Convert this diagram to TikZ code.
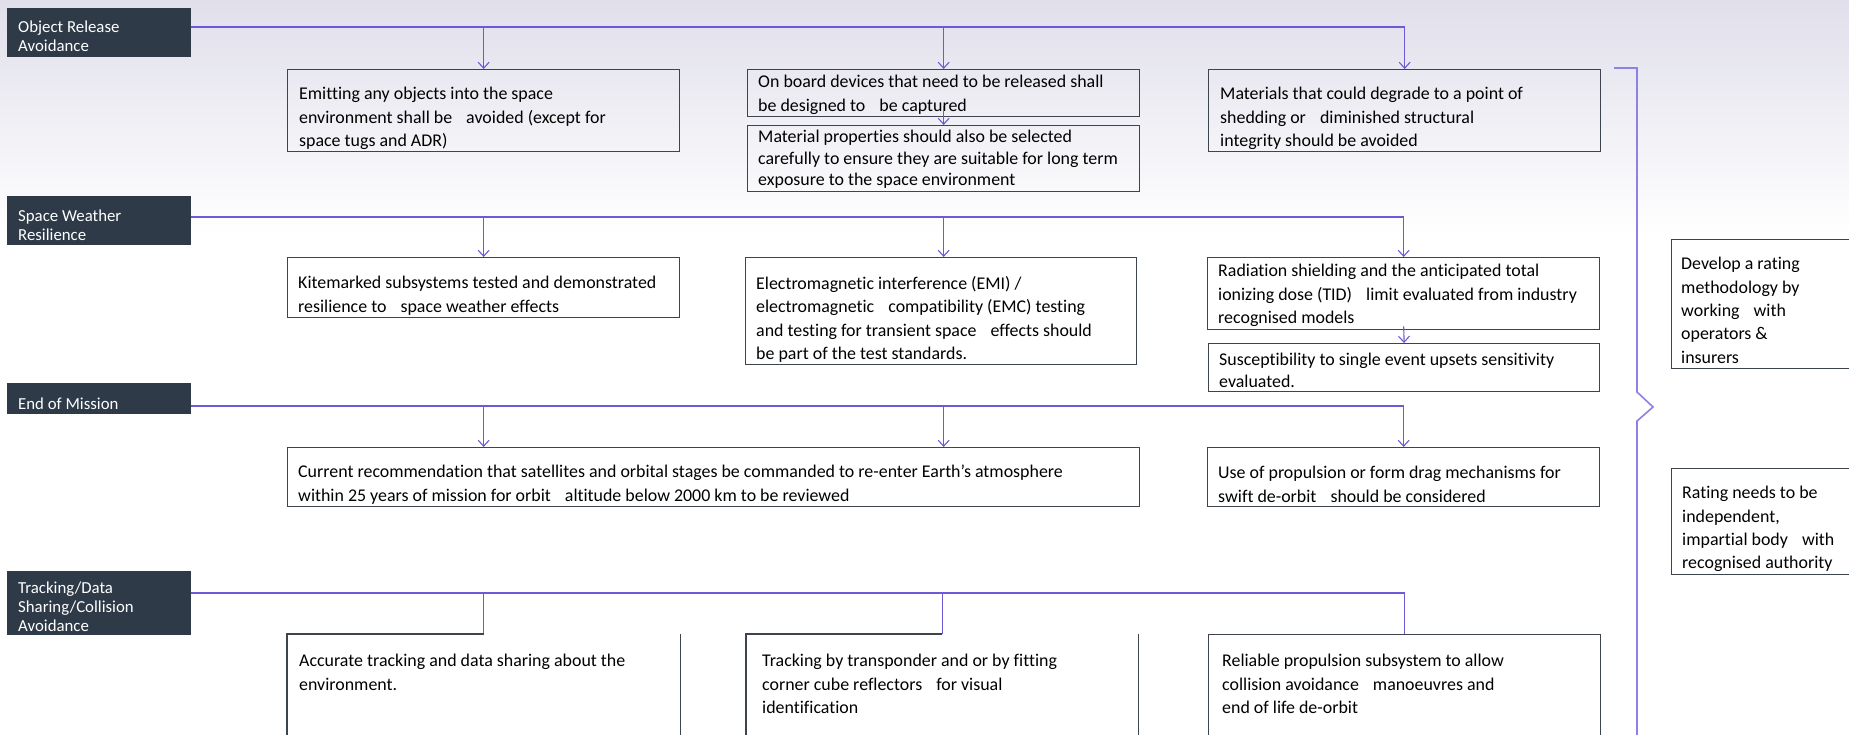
\documentclass[tikz,border=0pt]{standalone}
\usepackage{fontspec}
\setmainfont{Carlito}[Ligatures=NoCommon]
\usetikzlibrary{arrows.meta,positioning}
\definecolor{headfill}{RGB}{46,58,72}
\definecolor{linkblue}{RGB}{108,90,214}
\definecolor{bracecol}{RGB}{142,128,228}
\definecolor{framegray}{RGB}{62,68,78}
\definecolor{skytop}{RGB}{224,223,235}
\newcommand{\wgap}{\hspace{10pt}}
\begin{document}
\begin{tikzpicture}[x=1pt,y=1pt,
  head/.style={fill=headfill,anchor=north west,inner sep=0pt,minimum width=184},
  headtxt/.style={anchor=north west,inner sep=0pt,align=left,text=white,font=\fontsize{16.8}{19}\selectfont},
  frame/.style={draw=framegray,line width=1.3pt,anchor=north west,inner sep=0pt},
  note/.style={anchor=north west,inner sep=0pt,align=left,font=\fontsize{17.9}{23.4}\selectfont},
  notesm/.style={note,font=\fontsize{17.9}{21.4}\selectfont},
  link/.style={draw=linkblue,line width=1.1pt},
  tip/.style={-{Straight Barb[length=6pt,width=11pt]}},
  brace/.style={draw=bracecol,line width=1.6pt}]
\clip (0,0) rectangle (1849,-735);
\fill[white] (0,0) rectangle (1849,-735);
\shade[top color=skytop,bottom color=white] (0,0) rectangle (1849,-235);
\node[head,minimum height=49] (orHead) at (7,-8) {};
\node[headtxt] (orHead-t) at ([shift={(11,-12.5)}]orHead.north west) {Object Release\\Avoidance};
\node[head,minimum height=49] (swHead) at (7,-196) {};
\node[headtxt] (swHead-t) at ([shift={(11,-13.5)}]swHead.north west) {Space Weather\\Resilience};
\node[head,minimum height=31] (eomHead) at (7,-383) {};
\node[headtxt] (eomHead-t) at ([shift={(11,-14.5)}]eomHead.north west) {End of Mission};
\node[head,minimum height=64] (tdHead) at (7,-571) {};
\node[headtxt] (tdHead-t) at ([shift={(11,-10.5)}]tdHead.north west) {Tracking/Data\\Sharing/Collision\\Avoidance};
\coordinate (orBus) at (191,-27);
\coordinate (swBus) at (191,-217);
\coordinate (eomBus) at (191,-406);
\coordinate (tdBus) at (191,-593);
\node[frame,minimum width=392,minimum height=82] (orEmit) at (287,-69) {};
\node[note] (orEmit-t) at ([shift={(12,-18)}]orEmit.north west) {Emitting any objects into the space\\environment shall be \wgap avoided (except for\\space tugs and ADR)};
\node[frame,minimum width=392,minimum height=47] (orBoard) at (747,-69) {};
\node[note] (orBoard-t) at ([shift={(11,-6)}]orBoard.north west) {On board devices that need to be released shall\\be designed to \wgap be captured};
\node[frame,minimum width=392,minimum height=66] (orMatl) at (747,-125) {};
\node[notesm] (orMatl-t) at ([shift={(11,-5)}]orMatl.north west) {Material properties should also be selected\\carefully to ensure they are suitable for long term\\exposure to the space environment};
\node[frame,minimum width=392,minimum height=82] (orDegr) at (1208,-69) {};
\node[note] (orDegr-t) at ([shift={(12,-18)}]orDegr.north west) {Materials that could degrade to a point of\\shedding or \wgap diminished structural\\integrity should be avoided};
\node[frame,minimum width=392,minimum height=60] (swKite) at (287,-257) {};
\node[note] (swKite-t) at ([shift={(11,-19)}]swKite.north west) {Kitemarked subsystems tested and demonstrated\\resilience to \wgap space weather effects};
\node[frame,minimum width=391,minimum height=107] (swEmc) at (745,-257) {};
\node[note] (swEmc-t) at ([shift={(11,-19)}]swEmc.north west) {Electromagnetic interference (EMI) /\\electromagnetic \wgap compatibility (EMC) testing\\and testing for transient space \wgap effects should\\be part of the test standards.};
\node[frame,minimum width=392,minimum height=72] (swRad) at (1207,-257) {};
\node[note] (swRad-t) at ([shift={(11,-7)}]swRad.north west) {Radiation shielding and the anticipated total\\ionizing dose (TID) \wgap limit evaluated from industry\\recognised models};
\node[frame,minimum width=391,minimum height=48] (swSeu) at (1208,-343) {};
\node[notesm] (swSeu-t) at ([shift={(11,-10)}]swSeu.north west) {Susceptibility to single event upsets sensitivity\\evaluated.};
\node[frame,minimum width=852,minimum height=59] (eomRec) at (287,-447) {};
\node[note] (eomRec-t) at ([shift={(11,-18)}]eomRec.north west) {Current recommendation that satellites and orbital stages be commanded to re-enter Earth’s atmosphere\\within 25 years of mission for orbit \wgap altitude below 2000 km to be reviewed};
\node[frame,minimum width=392,minimum height=59] (eomProp) at (1207,-447) {};
\node[note] (eomProp-t) at ([shift={(11,-19)}]eomProp.north west) {Use of propulsion or form drag mechanisms for\\swift de-orbit \wgap should be considered};
\node[frame,draw=none,minimum width=392,minimum height=120] (tdAcc) at (287,-634) {};
\node[note] (tdAcc-t) at ([shift={(12,-20)}]tdAcc.north west) {Accurate tracking and data sharing about the\\environment.};
\node[frame,draw=none,minimum width=391,minimum height=120] (tdTrans) at (746,-634) {};
\node[note] (tdTrans-t) at ([shift={(16,-20)}]tdTrans.north west) {Tracking by transponder and or by fitting\\corner cube reflectors \wgap for visual\\identification};
\node[frame,minimum width=392,minimum height=120] (tdProp) at (1208,-634) {};
\node[note] (tdProp-t) at ([shift={(14,-20)}]tdProp.north west) {Reliable propulsion subsystem to allow\\collision avoidance \wgap manoeuvres and\\end of life de-orbit};
\node[frame,minimum width=200,minimum height=129] (rtMeth) at (1671,-239) {};
\node[note] (rtMeth-t) at ([shift={(10,-18)}]rtMeth.north west) {Develop a rating\\methodology by\\working \wgap with\\operators \&\\insurers};
\node[frame,minimum width=200,minimum height=106] (rtIndep) at (1671,-468) {};
\node[note] (rtIndep-t) at ([shift={(11,-18)}]rtIndep.north west) {Rating needs to be\\independent,\\impartial body \wgap with\\recognised authority};
\draw[link,tip] (orBus) -| (orDegr.north);
\draw[link,tip] (orBus -| orEmit.north) -- (orEmit.north);
\draw[link,tip] (orBus -| orBoard.north) -- (orBoard.north);
\draw[link,tip] ([yshift=11]orBoard.south) -- (orMatl.north);
\draw[link,tip] (swBus) -| (swRad.north);
\draw[link,tip] (swBus -| swKite.north) -- (swKite.north);
\draw[link,tip] (swBus -| orBoard.north) -- (swEmc.north -| orBoard.north);
\draw[link,tip] ([yshift=4]swRad.south) -- (swSeu.north);
\draw[link,tip] (eomBus) -| (eomProp.north);
\draw[link,tip] (eomBus -| orEmit.north) -- (eomRec.north -| orEmit.north);
\draw[link,tip] (eomBus -| orBoard.north) -- (eomRec.north -| orBoard.north);
\draw[link] (tdBus) -| (tdProp.north);
\draw[link] (tdBus -| tdAcc.north) -- (tdAcc.north);
\draw[link] (tdBus -| tdTrans.north) -- (tdTrans.north);
\draw[draw=framegray,line width=1.3pt] (tdAcc.north) -- (tdAcc.north west) -- (tdAcc.south west);
\draw[draw=framegray,line width=1.3pt] (tdAcc.north east) -- (tdAcc.south east);
\draw[draw=framegray,line width=1.3pt] (tdTrans.north) -- (tdTrans.north west) -- (tdTrans.south west);
\draw[draw=framegray,line width=1.3pt] (tdTrans.north east) -- (tdTrans.south east);
\draw[brace] (1614,-68) -- (1637,-68) -- (1637,-392) -- (1653,-407) -- (1637,-421) -- (1637,-745);
\end{tikzpicture}
\end{document}
